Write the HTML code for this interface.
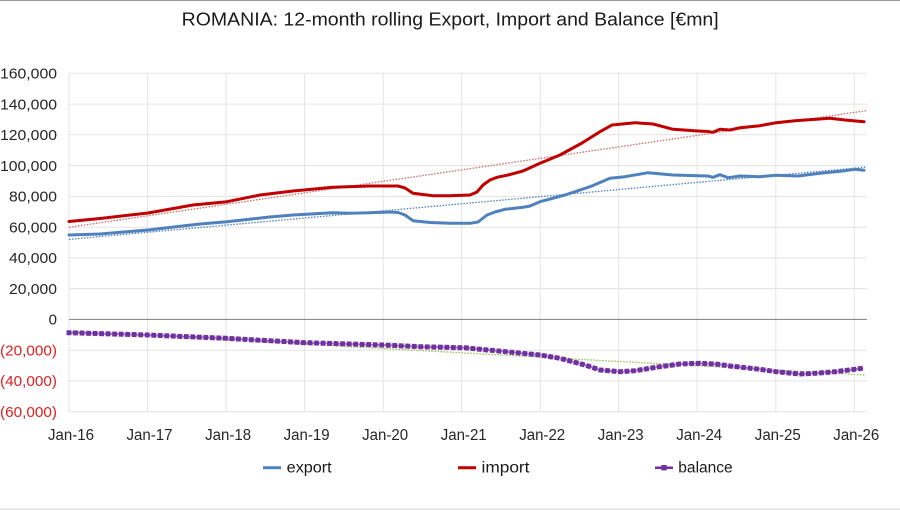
<!DOCTYPE html>
<html>
<head>
<meta charset="utf-8">
<style>
  html,body{margin:0;padding:0;background:#fff;}
  svg{display:block;}
  text{font-family:"Liberation Sans", Arial, sans-serif;}
</style>
</head>
<body>
<svg width="900" height="510" viewBox="0 0 900 510" xmlns="http://www.w3.org/2000/svg">
  <rect x="0" y="0" width="900" height="510" fill="#ffffff"/>
  <line x1="0" y1="0.5" x2="900" y2="0.5" stroke="#9a9a9a" stroke-width="1"/>
  <line x1="0" y1="509" x2="900" y2="509" stroke="#e2e2e2" stroke-width="1.5"/>

  <!-- Title -->
  <text x="181.7" y="25.5" font-size="18" fill="#1a1a1a" textLength="537" lengthAdjust="spacingAndGlyphs">ROMANIA: 12-month rolling Export, Import and Balance [€mn]</text>

  <!-- horizontal gridlines -->
  <g stroke="#e3e3e3" stroke-width="1">
    <line x1="69" y1="73.3" x2="867" y2="73.3"/>
    <line x1="69" y1="104.1" x2="867" y2="104.1"/>
    <line x1="69" y1="134.8" x2="867" y2="134.8"/>
    <line x1="69" y1="165.6" x2="867" y2="165.6"/>
    <line x1="69" y1="196.4" x2="867" y2="196.4"/>
    <line x1="69" y1="227.2" x2="867" y2="227.2"/>
    <line x1="69" y1="257.9" x2="867" y2="257.9"/>
    <line x1="69" y1="288.6" x2="867" y2="288.6"/>
    <line x1="69" y1="350.2" x2="867" y2="350.2"/>
    <line x1="69" y1="380.9" x2="867" y2="380.9"/>
    <line x1="69" y1="411.7" x2="867" y2="411.7"/>
  </g>
  <!-- vertical gridlines -->
  <g stroke="#e3e3e3" stroke-width="1">
    <line x1="69" y1="73.3" x2="69" y2="411.7"/>
    <line x1="147.5" y1="73.3" x2="147.5" y2="411.7"/>
    <line x1="226.1" y1="73.3" x2="226.1" y2="411.7"/>
    <line x1="304.6" y1="73.3" x2="304.6" y2="411.7"/>
    <line x1="383.1" y1="73.3" x2="383.1" y2="411.7"/>
    <line x1="461.7" y1="73.3" x2="461.7" y2="411.7"/>
    <line x1="540.2" y1="73.3" x2="540.2" y2="411.7"/>
    <line x1="618.7" y1="73.3" x2="618.7" y2="411.7"/>
    <line x1="697.2" y1="73.3" x2="697.2" y2="411.7"/>
    <line x1="775.8" y1="73.3" x2="775.8" y2="411.7"/>
    <line x1="854.3" y1="73.3" x2="854.3" y2="411.7"/>
  </g>
  <!-- zero line -->
  <line x1="69" y1="319.4" x2="867" y2="319.4" stroke="#7f7f7f" stroke-width="1"/>

  <!-- Y labels -->
  <g font-size="15" fill="#262626" text-anchor="end">
    <text x="57" y="78.6" textLength="57" lengthAdjust="spacingAndGlyphs">160,000</text>
    <text x="57" y="109.4" textLength="57" lengthAdjust="spacingAndGlyphs">140,000</text>
    <text x="57" y="140.1" textLength="57" lengthAdjust="spacingAndGlyphs">120,000</text>
    <text x="57" y="170.9" textLength="57" lengthAdjust="spacingAndGlyphs">100,000</text>
    <text x="57" y="201.7" textLength="48" lengthAdjust="spacingAndGlyphs">80,000</text>
    <text x="57" y="232.5" textLength="48" lengthAdjust="spacingAndGlyphs">60,000</text>
    <text x="57" y="263.2" textLength="48" lengthAdjust="spacingAndGlyphs">40,000</text>
    <text x="57" y="293.9" textLength="48" lengthAdjust="spacingAndGlyphs">20,000</text>
    <text x="57" y="324.7">0</text>
  </g>
  <g font-size="15" fill="#e02020" text-anchor="end">
    <text x="57" y="355.5" textLength="57" lengthAdjust="spacingAndGlyphs">(20,000)</text>
    <text x="57" y="386.2" textLength="57" lengthAdjust="spacingAndGlyphs">(40,000)</text>
    <text x="57" y="417" textLength="57" lengthAdjust="spacingAndGlyphs">(60,000)</text>
  </g>

  <!-- X labels -->
  <g font-size="15.5" fill="#262626" text-anchor="middle">
    <text x="71" y="440" textLength="46" lengthAdjust="spacingAndGlyphs">Jan-16</text>
    <text x="149.5" y="440" textLength="46" lengthAdjust="spacingAndGlyphs">Jan-17</text>
    <text x="228.1" y="440" textLength="46" lengthAdjust="spacingAndGlyphs">Jan-18</text>
    <text x="306.6" y="440" textLength="46" lengthAdjust="spacingAndGlyphs">Jan-19</text>
    <text x="385.1" y="440" textLength="46" lengthAdjust="spacingAndGlyphs">Jan-20</text>
    <text x="463.7" y="440" textLength="46" lengthAdjust="spacingAndGlyphs">Jan-21</text>
    <text x="542.2" y="440" textLength="46" lengthAdjust="spacingAndGlyphs">Jan-22</text>
    <text x="620.7" y="440" textLength="46" lengthAdjust="spacingAndGlyphs">Jan-23</text>
    <text x="699.2" y="440" textLength="46" lengthAdjust="spacingAndGlyphs">Jan-24</text>
    <text x="777.8" y="440" textLength="46" lengthAdjust="spacingAndGlyphs">Jan-25</text>
    <text x="856.3" y="440" textLength="46" lengthAdjust="spacingAndGlyphs">Jan-26</text>
  </g>

  <!-- Trendlines -->
  <line x1="69" y1="227.3" x2="866" y2="110.7" stroke="#cf6a6a" stroke-width="1.3" stroke-dasharray="1.5 1.5"/>
  <line x1="69" y1="239.4" x2="866" y2="167.1" stroke="#4f81bd" stroke-width="1.3" stroke-dasharray="1.5 1.5"/>
  <line x1="69" y1="331.2" x2="866" y2="375.1" stroke="#92c050" stroke-width="1.3" stroke-dasharray="1.5 1.5"/>

  <!-- Export -->
  <polyline fill="none" stroke="#4f81bd" stroke-width="3" stroke-linejoin="round" stroke-linecap="round"
    points="69,235 100,234 148,230 200,224 227,221.7 267,217.3 293,215 333,212.7 350,213.3 370,212.7 390,212 398,212.5 405,215 413,220.7 430,222.5 450,223.3 470,223.3 478,222 487,215 495,212 505,209.3 523,207.3 530,206 540,201.7 565,195 590,186.7 610,178.3 625,176.7 648,172.7 673,175 698,175.7 708,176 713,177.3 720,174.7 728,177.7 740,176 760,176.7 776,175.3 798,176 820,173.3 845,170.7 855,169.3 864,170.3"/>

  <!-- Import -->
  <polyline fill="none" stroke="#c00000" stroke-width="3" stroke-linejoin="round" stroke-linecap="round"
    points="69,221.5 100,218.5 148,213 193,205 227,201.7 260,195 293,191 333,187.3 370,186 398,186 405,188 413,193.3 433,195.7 450,195.7 470,195 477,192 483,185 490,180 497,177.3 508,175 523,171 540,163.3 560,155 582,143 600,131.7 612,125 635,122.7 653,124 673,129.3 698,131 708,131.5 713,132.3 720,129.3 730,130 740,127.7 760,125.7 776,122.7 795,120.7 830,118.3 845,120 864,121.7"/>

  <!-- Balance -->
  <path fill="none" stroke="#9f7cc4" stroke-width="2"
    d="M66.6,332.7 L69,332.7 148,335 226,338.3 305,342.7 383,345 420,346.7 465,347.8 540,355 560,358.3 585,365 600,370 620,371.7 635,370.7 660,366.7 680,364 700,363.3 718,364.3 730,366 760,369.3 776,371.7 800,374 815,373.3 835,371.7 855,369.3 863.2,368.2"/>
  <path fill="none" stroke="#7030a0" stroke-width="5" stroke-dasharray="4.8 1.72"
    d="M66.6,332.7 L69,332.7 148,335 226,338.3 305,342.7 383,345 420,346.7 465,347.8 540,355 560,358.3 585,365 600,370 620,371.7 635,370.7 660,366.7 680,364 700,363.3 718,364.3 730,366 760,369.3 776,371.7 800,374 815,373.3 835,371.7 855,369.3 863.2,368.2"/>

  <!-- Legend -->
  <line x1="263" y1="467.7" x2="281" y2="467.7" stroke="#4f81bd" stroke-width="3"/>
  <text x="286.7" y="472.5" font-size="15.5" fill="#1a1a1a" textLength="45" lengthAdjust="spacingAndGlyphs">export</text>
  <line x1="458" y1="467.7" x2="476" y2="467.7" stroke="#c00000" stroke-width="3"/>
  <text x="481.5" y="472.5" font-size="15.5" fill="#1a1a1a" textLength="48" lengthAdjust="spacingAndGlyphs">import</text>
  <line x1="655" y1="467.7" x2="673" y2="467.7" stroke="#7030a0" stroke-width="2.5"/>
  <rect x="661.3" y="465" width="5.4" height="5.4" fill="#7030a0"/>
  <text x="678.3" y="472.5" font-size="15.5" fill="#1a1a1a" textLength="54.4" lengthAdjust="spacingAndGlyphs">balance</text>
</svg>
</body>
</html>
